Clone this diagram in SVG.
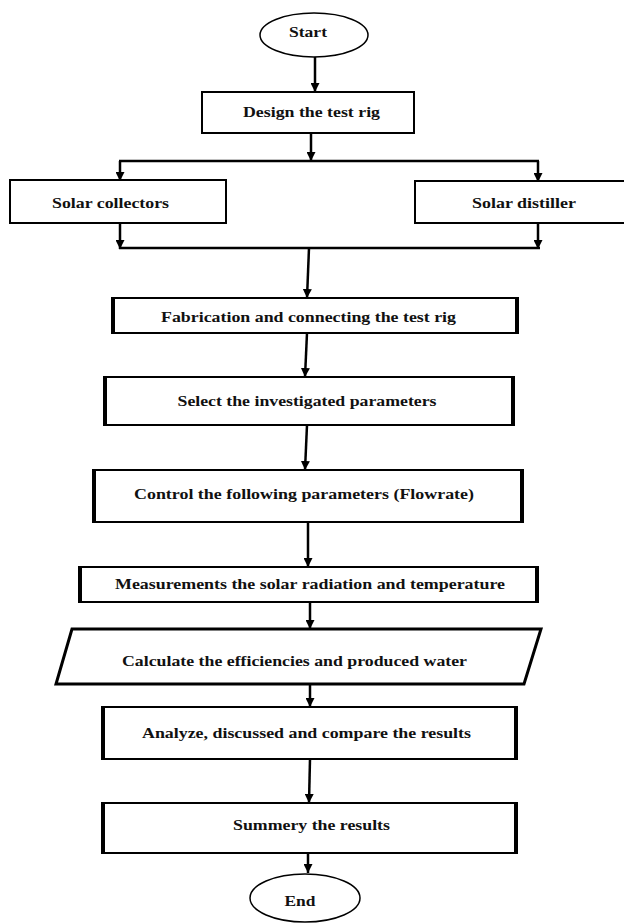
<svg xmlns="http://www.w3.org/2000/svg" width="624" height="924" viewBox="0 0 624 924">
<style>
  .box { fill: #ffffff; stroke: #000; stroke-width: 2; }
  .side { fill: none; stroke: #000; stroke-width: 4; }
  .term { fill: #ffffff; stroke: #000; stroke-width: 1.5; }
  .para { fill: #ffffff; stroke: #000; stroke-width: 3; stroke-linejoin: miter; }
  .lbl { font-family: "Liberation Serif", "Times New Roman", serif; font-weight: bold; font-size: 14px; fill: #111; text-anchor: middle; }
  .conn { fill: none; stroke: #000; stroke-width: 2.5; }
</style>
<defs>
  <marker id="arr" viewBox="0 0 10 10" refX="10" refY="5" markerWidth="9" markerHeight="9" markerUnits="userSpaceOnUse" orient="auto">
    <path d="M0,0 L10,5 L0,10 z" fill="#000"/>
  </marker>
</defs>
<rect width="624" height="924" fill="#ffffff"/>

<g id="connectors">
  <line class="conn" x1="315" y1="57" x2="315" y2="92" marker-end="url(#arr)"/>
  <line class="conn" x1="311" y1="133" x2="311" y2="161" marker-end="url(#arr)"/>
  <line class="conn" x1="119" y1="161" x2="539" y2="161"/>
  <line class="conn" x1="120" y1="161" x2="120" y2="181" marker-end="url(#arr)"/>
  <line class="conn" x1="538" y1="161" x2="538" y2="182" marker-end="url(#arr)"/>
  <line class="conn" x1="120" y1="223" x2="120" y2="249" marker-end="url(#arr)"/>
  <line class="conn" x1="538" y1="223" x2="538" y2="249" marker-end="url(#arr)"/>
  <line class="conn" x1="119" y1="248" x2="540" y2="248"/>
  <line class="conn" x1="309" y1="248" x2="307" y2="298" marker-end="url(#arr)"/>
  <line class="conn" x1="307" y1="333" x2="305" y2="377" marker-end="url(#arr)"/>
  <line class="conn" x1="307" y1="425" x2="305" y2="470" marker-end="url(#arr)"/>
  <line class="conn" x1="308" y1="522" x2="308" y2="567" marker-end="url(#arr)"/>
  <line class="conn" x1="310" y1="602" x2="310" y2="629" marker-end="url(#arr)"/>
  <line class="conn" x1="310" y1="684" x2="310" y2="707" marker-end="url(#arr)"/>
  <line class="conn" x1="310" y1="759" x2="309" y2="803" marker-end="url(#arr)"/>
  <line class="conn" x1="308" y1="853" x2="308" y2="873" marker-end="url(#arr)"/>
</g>

<g id="start">
  <ellipse class="term" cx="314" cy="35" rx="54" ry="22"/>
  <text class="lbl" x="308" y="37" textLength="38" lengthAdjust="spacingAndGlyphs">Start</text>
</g>

<g id="design">
  <rect class="box" x="202" y="92" width="212" height="41"/>
  <text class="lbl" x="311.5" y="117" textLength="137" lengthAdjust="spacingAndGlyphs">Design the test rig</text>
</g>

<g id="collectors">
  <rect class="box" x="10" y="180" width="216" height="43"/>
  <text class="lbl" x="110.5" y="208" textLength="117" lengthAdjust="spacingAndGlyphs">Solar collectors</text>
</g>

<g id="distiller">
  <rect class="box" x="415" y="181" width="215" height="42"/>
  <text class="lbl" x="524" y="208" textLength="104" lengthAdjust="spacingAndGlyphs">Solar distiller</text>
</g>

<g id="fabrication">
  <rect class="box" x="112" y="298" width="406" height="35"/>
  <path class="side" d="M113,298 V333 M517,298 V333"/>
  <text class="lbl" x="308.5" y="322" textLength="295" lengthAdjust="spacingAndGlyphs">Fabrication and connecting the test rig</text>
</g>

<g id="select">
  <rect class="box" x="104" y="377" width="410" height="48"/>
  <path class="side" d="M105,377 V425 M513,377 V425"/>
  <text class="lbl" x="307" y="406" textLength="259" lengthAdjust="spacingAndGlyphs">Select the investigated parameters</text>
</g>

<g id="control">
  <rect class="box" x="93" y="470" width="430" height="52"/>
  <path class="side" d="M94,470 V522 M522,470 V522"/>
  <text class="lbl" x="304" y="499" textLength="340" lengthAdjust="spacingAndGlyphs">Control the following parameters (Flowrate)</text>
</g>

<g id="measurements">
  <rect class="box" x="79" y="567" width="459" height="35"/>
  <path class="side" d="M80,567 V602 M537,567 V602"/>
  <text class="lbl" x="310" y="589" textLength="390" lengthAdjust="spacingAndGlyphs">Measurements the solar radiation and temperature</text>
</g>

<g id="calculate">
  <polygon class="para" points="72,629 541,629 524,684 56,684"/>
  <text class="lbl" x="294.5" y="666" textLength="345" lengthAdjust="spacingAndGlyphs">Calculate the efficiencies and produced water</text>
</g>

<g id="analyze">
  <rect class="box" x="102" y="707" width="415" height="52"/>
  <path class="side" d="M103,707 V759 M516,707 V759"/>
  <text class="lbl" x="306.5" y="738" textLength="329" lengthAdjust="spacingAndGlyphs">Analyze, discussed and compare the results</text>
</g>

<g id="summery">
  <rect class="box" x="102" y="803" width="415" height="50"/>
  <path class="side" d="M103,803 V853 M516,803 V853"/>
  <text class="lbl" x="311.5" y="830" textLength="157" lengthAdjust="spacingAndGlyphs">Summery the results</text>
</g>

<g id="end">
  <ellipse class="term" cx="305" cy="898" rx="55" ry="24"/>
  <text class="lbl" x="300" y="906" textLength="31" lengthAdjust="spacingAndGlyphs">End</text>
</g>
</svg>
